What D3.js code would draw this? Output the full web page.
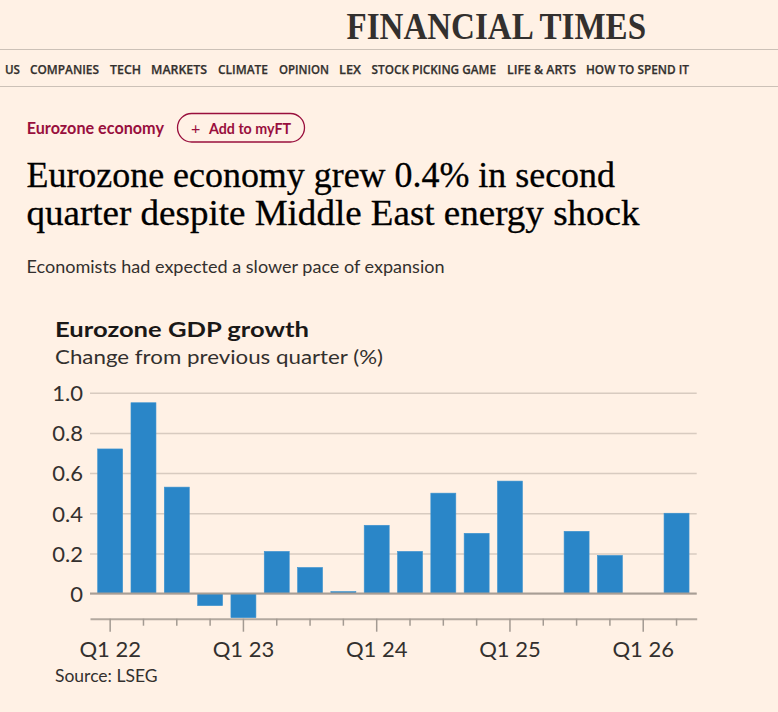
<!DOCTYPE html>
<html>
<head>
<meta charset="utf-8">
<script src="https://cdn.jsdelivr.net/npm/d3@7"></script>
<style>
  html, body { margin: 0; padding: 0; background: #FFF1E5; }
  svg { display: block; }
  .nav { font-family: "Open Sans", sans-serif; font-weight: 600; font-size: 12.5px; fill: #33302E; }
  .axis text { font-family: Lato, sans-serif; font-size: 22px; fill: #33302E; }
</style>
</head>
<body>
<div id="chart-area"></div>
<script>
// Chart data
let quarters = ["Q1 22", "Q2 22", "Q3 22", "Q4 22", "Q1 23", "Q2 23", "Q3 23", "Q4 23", "Q1 24",
    "Q2 24", "Q3 24", "Q4 24", "Q1 25", "Q2 25", "Q3 25", "Q4 25", "Q1 26", "Q2 26"];
let growth = [0.72, 0.95, 0.53, -0.06, -0.12, 0.21, 0.13, 0.01, 0.34,
    0.21, 0.50, 0.30, 0.56, 0.00, 0.31, 0.19, 0.00, 0.40];
let yTicks = [0, 0.2, 0.4, 0.6, 0.8, 1.0];
let yTickLabels = ["0", "0.2", "0.4", "0.6", "0.8", "1.0"];
let xTickLabels = ["Q1 22", "Q1 23", "Q1 24", "Q1 25", "Q1 26"];

// Page header pieces
let navItems = ["US", "COMPANIES", "TECH", "MARKETS", "CLIMATE", "OPINION", "LEX",
    "STOCK PICKING GAME", "LIFE & ARTS", "HOW TO SPEND IT"];
let navLayout = [[5, 15], [30, 69], [110, 31], [151, 56], [218, 50], [279, 50], [339, 22],
    [371.5, 124.5], [507, 69], [586, 103]];

let W = 778, H = 712;
let claret = "#990F3D";

let svg = d3.select("#chart-area").append("svg")
    .attr("width", W)
    .attr("height", H);

svg.append("rect")
    .attr("width", W)
    .attr("height", H)
    .attr("fill", "#FFF1E5");

// Masthead
svg.append("text")
    .attr("x", 346.5)
    .attr("y", 39)
    .attr("textLength", 299.5)
    .attr("lengthAdjust", "spacingAndGlyphs")
    .style("font-family", "Liberation Serif, serif")
    .style("font-size", "38px")
    .style("font-weight", "bold")
    .style("fill", "#33302E")
    .text("FINANCIAL TIMES");

[49.5, 86.5].forEach(yy => {
    svg.append("line")
        .attr("x1", 0).attr("x2", W)
        .attr("y1", yy).attr("y2", yy)
        .attr("stroke", "#CCC1B7")
        .attr("stroke-width", 1);
});

svg.selectAll(".nav")
    .data(navItems)
    .enter()
    .append("text")
    .attr("class", "nav")
    .attr("x", (d, i) => navLayout[i][0])
    .attr("y", 73.5)
    .attr("textLength", (d, i) => navLayout[i][1])
    .attr("lengthAdjust", "spacingAndGlyphs")
    .style("stroke", "#33302E")
    .style("stroke-width", 0.25)
    .text(d => d);

// Topic tag + button
svg.append("text")
    .attr("x", 26.7)
    .attr("y", 134.3)
    .attr("textLength", 137.3)
    .attr("lengthAdjust", "spacingAndGlyphs")
    .style("font-family", "Lato, sans-serif")
    .style("font-weight", "bold")
    .style("font-size", "17px")
    .style("fill", claret)
    .text("Eurozone economy");

svg.append("rect")
    .attr("x", 177.5).attr("y", 113.5)
    .attr("width", 127).attr("height", 28.5)
    .attr("rx", 14.2)
    .attr("fill", "none")
    .attr("stroke", claret)
    .attr("stroke-width", 1.3);

svg.append("text")
    .attr("x", 191)
    .attr("y", 133.5)
    .style("font-family", "Lato, sans-serif")
    .style("font-size", "16px")
    .style("fill", claret)
    .text("+");

svg.append("text")
    .attr("x", 209)
    .attr("y", 134.3)
    .attr("textLength", 82)
    .attr("lengthAdjust", "spacingAndGlyphs")
    .style("font-family", "Lato, sans-serif")
    .style("font-weight", "bold")
    .style("font-size", "16px")
    .style("fill", claret)
    .text("Add to myFT");

// Headline
let headline = [["Eurozone economy grew 0.4% in second", 186.7, 588.5],
    ["quarter despite Middle East energy shock", 225, 613]];
headline.forEach(h => {
    svg.append("text")
        .attr("x", 26.5)
        .attr("y", h[1])
        .attr("textLength", h[2])
        .attr("lengthAdjust", "spacingAndGlyphs")
        .style("font-family", "Liberation Serif, serif")
        .style("font-size", "35px")
        .style("fill", "#000000")
        .style("stroke", "#000000")
        .style("stroke-width", 0.3)
        .text(h[0]);
});

svg.append("text")
    .attr("x", 26.5)
    .attr("y", 273.3)
    .attr("textLength", 418)
    .attr("lengthAdjust", "spacingAndGlyphs")
    .style("font-family", "Lato, sans-serif")
    .style("font-size", "17px")
    .style("fill", "#33302E")
    .text("Economists had expected a slower pace of expansion");

// Chart titles
svg.append("text")
    .attr("x", 55)
    .attr("y", 336.7)
    .attr("textLength", 254)
    .attr("lengthAdjust", "spacingAndGlyphs")
    .style("font-family", "Lato, sans-serif")
    .style("font-weight", "bold")
    .style("font-size", "20.5px")
    .style("fill", "#1A1817")
    .text("Eurozone GDP growth");

svg.append("text")
    .attr("x", 55)
    .attr("y", 364.3)
    .attr("textLength", 328)
    .attr("lengthAdjust", "spacingAndGlyphs")
    .style("font-family", "Lato, sans-serif")
    .style("font-size", "19.5px")
    .style("fill", "#33302E")
    .text("Change from previous quarter (%)");

// Scales
let plotLeft = 90, plotRight = 696.7, plotTop = 392.7, plotBottom = 618.7;

let x = d3.scaleBand()
    .domain(quarters)
    .range([plotLeft, plotRight])
    .paddingInner(0.25)
    .paddingOuter(0.23);

let y = d3.scaleLinear()
    .domain([-0.125, 1.0])
    .range([plotBottom, plotTop]);

// Gridlines + y labels
let yAxis = d3.axisLeft(y)
    .tickValues(yTicks)
    .tickSize(plotRight - plotLeft)
    .tickPadding(7)
    .tickFormat((d, i) => yTickLabels[i]);

let yAxisGroup = svg.append("g")
    .attr("class", "y-axis axis")
    .attr("transform", "translate(" + plotRight + ",0)")
    .call(yAxis);

yAxisGroup.select(".domain").remove();
yAxisGroup.selectAll(".tick line")
    .attr("stroke", "#D8CBC0")
    .attr("stroke-width", 1.5);
yAxisGroup.selectAll(".tick text")
    .attr("dy", "0.36em");

// Bars
svg.selectAll(".bar")
    .data(growth)
    .enter()
    .append("rect")
    .attr("class", "bar")
    .attr("x", (d, i) => x(quarters[i]))
    .attr("y", d => y(Math.max(0, d)))
    .attr("width", x.bandwidth())
    .attr("height", d => Math.abs(y(d) - y(0)))
    .attr("fill", "#2A86C8")
    .attr("stroke", "#3C93D0")
    .attr("stroke-width", 0.6);

// Zero line
svg.append("line")
    .attr("x1", plotLeft).attr("x2", plotRight)
    .attr("y1", y(0)).attr("y2", y(0))
    .attr("stroke", "#A89E95")
    .attr("stroke-width", 2);

// X axis
let xAxis = d3.axisBottom(x)
    .tickSize(7)
    .tickSizeOuter(0)
    .tickFormat(d => xTickLabels.includes(d) ? d : "");

let xAxisGroup = svg.append("g")
    .attr("class", "x-axis axis")
    .attr("transform", "translate(0," + plotBottom + ")")
    .call(xAxis);

xAxisGroup.select(".domain")
    .attr("stroke", "#B3A99F")
    .attr("stroke-width", 2);
xAxisGroup.selectAll(".tick line")
    .attr("stroke", "#A39A92")
    .attr("stroke-width", 1.5)
    .attr("y2", d => xTickLabels.includes(d) ? 13 : 7);
xAxisGroup.selectAll(".tick text")
    .attr("y", 38)
    .attr("dy", 0);

// Source
svg.append("text")
    .attr("x", 55)
    .attr("y", 681.7)
    .style("font-family", "Lato, sans-serif")
    .style("font-size", "17.5px")
    .style("fill", "#33302E")
    .text("Source: LSEG");
</script>
</body>
</html>
